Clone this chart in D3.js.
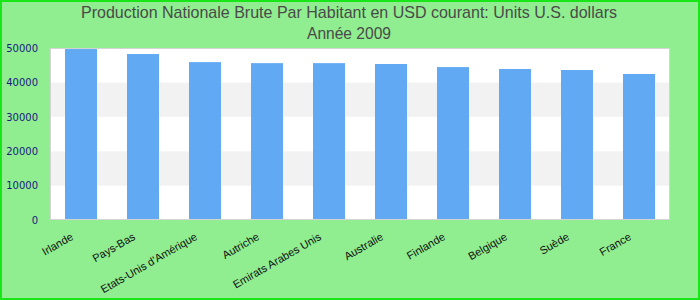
<!DOCTYPE html>
<html>
<head>
<meta charset="utf-8">
<script src="https://cdn.jsdelivr.net/npm/d3@7"></script>
<style>
  body { margin: 0; padding: 0; background: #fff; }
  svg { display: block; }
</style>
</head>
<body>
<script>
// data
var countries = ['Irlande', 'Pays-Bas', "Etats-Unis d'Amérique", 'Autriche', 'Emirats Arabes Unis',
    'Australie', 'Finlande', 'Belgique', 'Suède', 'France'];
var gnpPerCapita = [49700, 48250, 45900, 45600, 45600, 45350, 44450, 43900, 43600, 42450];
var yTicks = [0, 10000, 20000, 30000, 40000, 50000];
var titleLines = ['Production Nationale Brute Par Habitant en USD courant: Units U.S. dollars', 'Année 2009'];

var W = 700, H = 300;
var margin = {
        top: 48,
        right: 30,
        bottom: 80,
        left: 50
    },
    width = W - margin.left - margin.right,
    height = H - margin.top - margin.bottom;

var svg = d3.select('body')
    .append('svg')
    .attr('width', W)
    .attr('height', H);

// background + outer frame
svg.append('rect')
    .attr('x', 1).attr('y', 1)
    .attr('width', W - 2).attr('height', H - 2)
    .attr('fill', '#90ee90')
    .attr('stroke', '#19e619')
    .attr('stroke-width', 2);

svg.selectAll('.title')
    .data(titleLines)
    .enter()
    .append('text')
    .attr('class', 'title')
    .attr('x', 349)
    .attr('y', function (d, i) { return 18 + i * 21; })
    .attr('text-anchor', 'middle')
    .attr('font-family', 'Liberation Sans, Arial, sans-serif')
    .attr('font-size', 17)
    .attr('fill', '#4a4a4a')
    .attr('textLength', function (d, i) { return i == 0 ? 536 : 84; })
    .attr('lengthAdjust', 'spacingAndGlyphs')
    .text(function (d) { return d; });

var canvas = svg.append('g')
    .attr('transform', 'translate(' + margin.left + ',' + margin.top + ')');

var x = d3.scaleBand()
    .domain(countries)
    .range([0, width])
    .paddingInner(0.484)
    .paddingOuter(0.242);

var y = d3.scaleLinear()
    .domain([0, 50000])
    .range([height, 0]);

// plot area with alternating bands
canvas.append('rect')
    .attr('width', width)
    .attr('height', height)
    .attr('fill', '#fff');

canvas.selectAll('.band')
    .data(yTicks.slice(0, -1))
    .enter()
    .append('rect')
    .attr('class', 'band')
    .attr('x', 0)
    .attr('y', function (d) { return y(d + 10000); })
    .attr('width', width)
    .attr('height', function (d) { return y(d) - y(d + 10000); })
    .attr('fill', function (d, i) { return i % 2 == 1 ? '#f2f2f2' : '#fff'; });

canvas.selectAll('.bar')
    .data(gnpPerCapita)
    .enter()
    .append('rect')
    .attr('class', 'bar')
    .attr('x', function (d, i) { return x(countries[i]); })
    .attr('y', function (d) { return y(d); })
    .attr('width', x.bandwidth())
    .attr('height', function (d) { return height - y(d); })
    .attr('fill', '#62a9f4');

canvas.append('rect')
    .attr('x', 0.5).attr('y', 0.5)
    .attr('width', width - 1)
    .attr('height', height - 1)
    .attr('fill', 'none')
    .attr('stroke', '#d4d4d4');

// y axis labels
var yAxis = canvas.append('g')
    .call(d3.axisLeft(y).tickValues(yTicks).tickSize(0).tickPadding(12).tickFormat(d3.format('d')));
yAxis.select('.domain').remove();
yAxis.selectAll('text')
    .attr('font-family', 'DejaVu Sans, Verdana, sans-serif')
    .attr('font-size', 10)
    .attr('fill', '#1a1a80');

// x axis labels, rotated
var xAxis = canvas.append('g')
    .attr('transform', 'translate(0,' + height + ')')
    .call(d3.axisBottom(x).tickSize(0).tickPadding(0));
xAxis.select('.domain').remove();
xAxis.selectAll('text')
    .attr('font-family', 'Liberation Sans, Arial, sans-serif')
    .attr('font-size', 11)
    .attr('fill', '#111')
    .attr('text-anchor', 'end')
    .attr('dy', 0)
    .attr('transform', 'translate(-7,19) rotate(-30)');
</script>
</body>
</html>
